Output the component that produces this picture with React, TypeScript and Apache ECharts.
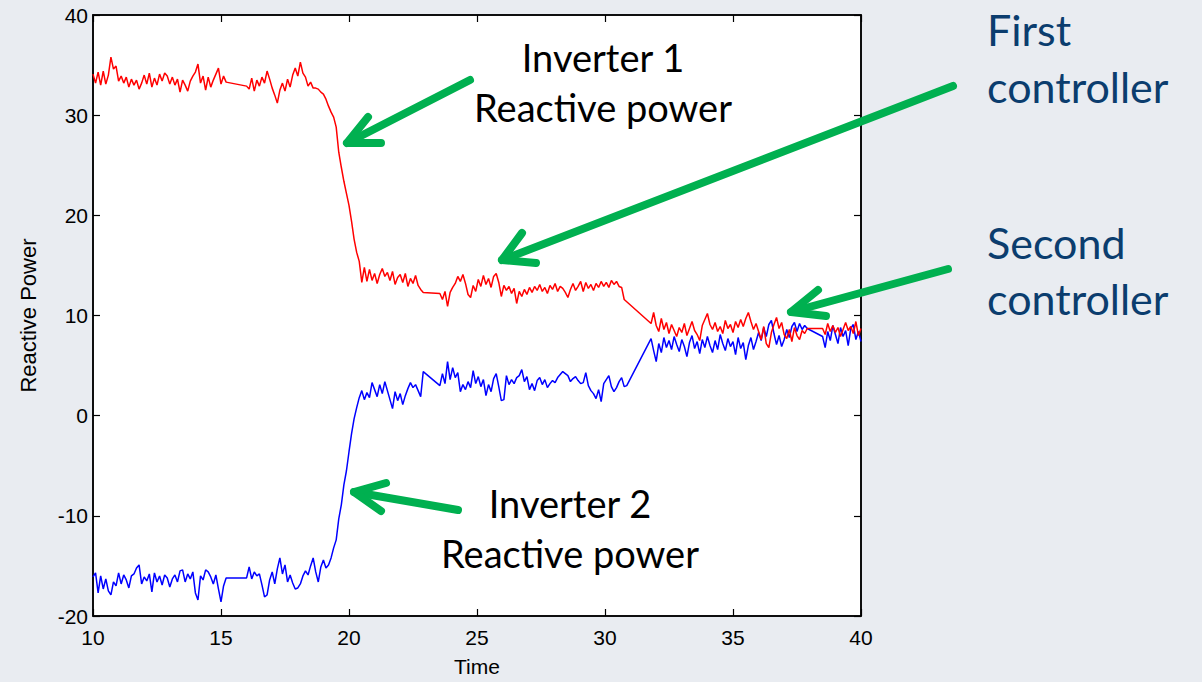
import React, { useEffect, useRef } from "react";
import * as echarts from "echarts";

const inverter1Points: [number, number][] = [
  [10.0, 34.1], [10.1, 33.2], [10.2, 34.3], [10.3, 33.0], [10.4, 34.4], [10.5, 33.1], [10.6, 34.0], [10.7, 35.8], [10.8, 34.6], [10.9, 34.9],
  [11.0, 33.4], [11.1, 33.9], [11.2, 33.2], [11.3, 33.8], [11.4, 32.8], [11.5, 33.6], [11.6, 33.0], [11.7, 33.5], [11.8, 32.6], [11.9, 33.2],
  [12.0, 34.0], [12.1, 33.1], [12.2, 34.2], [12.3, 32.8], [12.4, 33.7], [12.5, 33.0], [12.6, 34.1], [12.7, 33.4], [12.8, 34.2], [12.9, 33.9],
  [13.0, 33.1], [13.1, 33.8], [13.2, 33.0], [13.3, 33.6], [13.4, 32.3], [13.5, 33.5], [13.6, 33.0], [13.7, 32.4], [13.8, 33.4], [13.9, 33.9],
  [14.0, 34.3], [14.1, 35.1], [14.2, 33.2], [14.3, 33.9], [14.4, 32.5], [14.5, 33.8], [14.6, 32.8], [14.7, 33.5], [14.8, 34.1], [14.9, 34.7],
  [15.0, 33.1], [15.1, 33.9], [15.2, 33.3],
  [16.0, 32.9], [16.1, 32.6], [16.2, 33.7], [16.3, 32.4], [16.4, 33.5], [16.5, 32.9], [16.6, 33.8], [16.7, 33.2], [16.8, 34.4], [16.9, 33.6],
  [17.0, 32.7], [17.1, 32.0], [17.2, 31.2], [17.3, 32.5], [17.4, 33.2], [17.5, 32.4], [17.6, 33.6], [17.7, 32.8], [17.8, 34.0], [17.9, 34.7],
  [18.0, 33.9], [18.1, 35.3], [18.2, 34.2], [18.3, 33.8], [18.4, 32.9], [18.5, 33.3], [18.6, 32.7], [18.7, 32.7], [18.8, 32.6], [18.9, 32.3],
  [19.0, 32.1], [19.1, 31.6], [19.2, 30.9], [19.3, 30.3], [19.4, 29.8], [19.5, 28.8], [19.6, 26.3], [19.7, 24.8], [19.8, 23.4], [19.9, 22.2],
  [20.0, 21.0], [20.1, 19.4], [20.2, 17.6], [20.3, 16.3], [20.4, 15.4], [20.5, 13.3], [20.6, 14.8], [20.7, 13.4], [20.8, 14.6], [20.9, 13.5],
  [21.0, 14.2], [21.1, 13.2], [21.2, 14.1], [21.3, 14.7], [21.4, 13.9], [21.5, 14.3], [21.6, 13.5], [21.7, 14.4], [21.8, 13.1], [21.9, 13.8],
  [22.0, 14.1], [22.1, 13.3], [22.2, 14.2], [22.3, 12.9], [22.4, 13.7], [22.5, 13.2], [22.6, 14.0], [22.7, 13.0], [22.8, 12.6], [22.9, 12.3],
  [23.55, 12.2], [23.65, 11.6], [23.75, 12.4], [23.85, 10.9], [23.95, 12.3], [24.05, 12.8], [24.15, 13.2], [24.25, 13.9], [24.35, 13.4], [24.45, 14.1],
  [24.55, 13.2], [24.65, 12.1], [24.75, 11.8], [24.85, 13.0], [24.95, 12.4], [25.05, 13.6], [25.15, 12.9], [25.25, 14.0], [25.35, 13.1], [25.45, 13.7],
  [25.55, 12.8], [25.65, 13.9], [25.75, 14.2], [25.85, 13.3], [25.95, 11.9], [26.05, 13.0], [26.15, 12.5], [26.25, 12.9], [26.35, 12.2], [26.45, 12.7],
  [26.55, 11.2], [26.65, 12.4], [26.75, 11.9], [26.85, 12.6], [26.95, 12.1], [27.05, 12.8], [27.15, 12.3], [27.25, 12.9], [27.35, 12.5], [27.45, 13.1],
  [27.55, 12.4], [27.65, 12.8], [27.75, 12.2], [27.85, 13.0], [27.95, 12.6], [28.05, 13.2], [28.15, 12.4], [28.25, 12.9], [28.35, 12.7], [28.45, 12.3],
  [28.55, 11.8], [28.65, 12.6], [28.75, 13.2], [28.85, 12.5], [28.95, 12.9], [29.05, 13.4], [29.15, 12.4], [29.25, 13.3], [29.35, 12.7], [29.45, 13.1],
  [29.55, 12.5], [29.65, 13.2], [29.75, 12.8], [29.85, 13.4], [29.95, 12.9], [30.05, 13.3], [30.15, 12.8], [30.25, 13.5], [30.35, 13.1], [30.45, 13.4],
  [30.55, 12.9], [30.65, 12.8], [30.75, 11.6],
  [31.8, 9.2], [31.9, 10.3], [32.0, 9.0], [32.1, 8.4], [32.2, 9.7], [32.3, 8.6], [32.4, 9.3], [32.5, 8.2], [32.6, 9.1], [32.7, 8.5],
  [32.8, 7.9], [32.9, 8.8], [33.0, 8.3], [33.1, 9.2], [33.2, 8.0], [33.3, 8.7], [33.4, 9.4], [33.5, 8.5], [33.6, 8.1], [33.7, 7.5],
  [33.8, 9.0], [33.9, 9.6], [34.0, 10.2], [34.1, 9.1], [34.2, 8.6], [34.3, 9.3], [34.4, 8.4], [34.5, 8.9], [34.6, 8.2], [34.7, 9.5],
  [34.8, 8.7], [34.9, 9.1], [35.0, 8.3], [35.1, 9.4], [35.2, 8.8], [35.3, 9.6], [35.4, 8.9], [35.5, 9.7], [35.6, 10.3], [35.7, 9.4],
  [35.8, 8.6], [35.9, 9.2], [36.0, 8.4], [36.1, 7.6], [36.2, 8.9], [36.3, 7.2], [36.4, 6.8], [36.5, 8.3], [36.6, 9.1], [36.7, 9.8],
  [36.8, 8.7], [36.9, 9.3], [37.0, 8.1], [37.1, 7.7], [37.2, 8.6], [37.3, 7.4], [37.4, 8.8], [37.5, 8.0], [37.6, 7.6], [37.7, 8.5],
  [37.8, 8.2], [37.9, 8.7],
  [38.5, 8.7], [38.6, 8.1], [38.7, 9.2], [38.8, 8.4], [38.9, 9.0], [39.0, 8.3], [39.1, 8.8], [39.2, 7.9], [39.3, 8.6], [39.4, 9.3],
  [39.5, 8.5], [39.6, 8.9], [39.7, 8.2], [39.8, 9.4], [39.9, 8.0], [40.0, 8.7],
];

const inverter2Points: [number, number][] = [
  [10.0, -16.1], [10.1, -15.7], [10.2, -17.7], [10.3, -16.0], [10.4, -17.3], [10.5, -16.3], [10.6, -17.5], [10.7, -17.9], [10.8, -16.6], [10.9, -17.0],
  [11.0, -15.7], [11.1, -16.8], [11.2, -15.9], [11.3, -16.4], [11.4, -17.2], [11.5, -16.0], [11.6, -15.8], [11.7, -15.2], [11.8, -14.9], [11.9, -16.8],
  [12.0, -16.1], [12.1, -16.5], [12.2, -15.8], [12.3, -17.6], [12.4, -15.7], [12.5, -16.6], [12.6, -16.0], [12.7, -16.9], [12.8, -15.9], [12.9, -16.2],
  [13.0, -17.1], [13.1, -16.3], [13.2, -15.9], [13.3, -16.6], [13.4, -15.5], [13.5, -15.4], [13.6, -16.6], [13.7, -15.8], [13.8, -16.3], [13.9, -15.6],
  [14.0, -17.7], [14.1, -18.4], [14.2, -16.0], [14.3, -16.4], [14.4, -15.4], [14.5, -15.6], [14.6, -16.1], [14.7, -16.8], [14.8, -15.9], [14.9, -17.3],
  [15.0, -18.6], [15.1, -17.0], [15.2, -16.2],
  [16.0, -16.2], [16.1, -15.1], [16.2, -16.3], [16.3, -15.6], [16.4, -16.0], [16.5, -15.8], [16.6, -16.9], [16.7, -18.1], [16.8, -17.9], [16.9, -16.4],
  [17.0, -15.6], [17.1, -16.8], [17.2, -15.3], [17.3, -14.2], [17.4, -15.8], [17.5, -14.9], [17.6, -16.6], [17.7, -15.9], [17.8, -16.7], [17.9, -17.3],
  [18.0, -17.2], [18.1, -16.8], [18.2, -16.0], [18.3, -15.5], [18.4, -15.9], [18.5, -15.0], [18.6, -14.2], [18.7, -15.6], [18.8, -16.6], [18.9, -15.1],
  [19.0, -14.4], [19.1, -15.2], [19.2, -14.9], [19.3, -14.2], [19.4, -13.2], [19.5, -12.4], [19.6, -10.3], [19.7, -8.9], [19.8, -6.9], [19.9, -5.5],
  [20.0, -3.6], [20.1, -1.8], [20.2, -0.3], [20.3, 0.8], [20.4, 1.8], [20.5, 2.5], [20.6, 1.6], [20.7, 2.3], [20.8, 1.8], [20.9, 3.3],
  [21.0, 2.6], [21.1, 1.9], [21.2, 3.1], [21.3, 2.2], [21.4, 3.4], [21.5, 2.5], [21.6, 1.6], [21.7, 0.7], [21.8, 2.4], [21.9, 1.5],
  [22.0, 2.2], [22.1, 1.1], [22.2, 2.0], [22.3, 2.7], [22.4, 3.3], [22.5, 2.8], [22.6, 3.1], [22.7, 2.5], [22.8, 1.9], [22.9, 4.4],
  [23.55, 3.0], [23.65, 4.2], [23.75, 3.2], [23.85, 5.4], [23.95, 3.6], [24.05, 4.8], [24.15, 3.8], [24.25, 4.3], [24.35, 2.4], [24.45, 3.1],
  [24.55, 2.6], [24.65, 3.4], [24.75, 2.8], [24.85, 4.5], [24.95, 3.2], [25.05, 3.9], [25.15, 2.9], [25.25, 3.6], [25.35, 2.0], [25.45, 3.1],
  [25.55, 2.4], [25.65, 3.7], [25.75, 4.2], [25.85, 2.9], [25.95, 1.5], [26.05, 1.6], [26.15, 4.0], [26.25, 3.1], [26.35, 3.6], [26.45, 3.2],
  [26.55, 3.8], [26.65, 4.0], [26.75, 4.6], [26.85, 3.4], [26.95, 3.9], [27.05, 2.6], [27.15, 3.2], [27.25, 2.5], [27.35, 3.5], [27.45, 3.8],
  [27.55, 3.1], [27.65, 3.6], [27.75, 2.8], [27.85, 3.2], [27.95, 3.5], [28.05, 3.3], [28.15, 3.8], [28.25, 4.1], [28.35, 4.4], [28.45, 4.2],
  [28.55, 4.0], [28.65, 3.4], [28.75, 3.7], [28.85, 3.9], [28.95, 3.5], [29.05, 3.2], [29.15, 3.3], [29.25, 4.3], [29.35, 3.0], [29.45, 2.5],
  [29.55, 2.2], [29.65, 1.7], [29.75, 2.6], [29.85, 1.4], [29.95, 3.2], [30.05, 3.6], [30.15, 4.0], [30.25, 2.9], [30.35, 2.4], [30.45, 2.8],
  [30.55, 3.4], [30.65, 3.8], [30.75, 2.9], [30.85, 3.0],
  [31.8, 7.7], [31.9, 6.5], [32.0, 5.4], [32.1, 7.2], [32.2, 6.3], [32.3, 7.8], [32.4, 6.8], [32.5, 7.5], [32.6, 6.6], [32.7, 7.9],
  [32.8, 7.1], [32.9, 6.4], [33.0, 7.6], [33.1, 6.9], [33.2, 5.9], [33.3, 7.3], [33.4, 8.0], [33.5, 6.7], [33.6, 7.4], [33.7, 6.2],
  [33.8, 7.6], [33.9, 6.8], [34.0, 7.9], [34.1, 7.0], [34.2, 6.3], [34.3, 7.5], [34.4, 6.6], [34.5, 8.1], [34.6, 7.2], [34.7, 6.5],
  [34.8, 7.7], [34.9, 6.9], [35.0, 7.4], [35.1, 6.1], [35.2, 7.8], [35.3, 6.7], [35.4, 7.3], [35.5, 5.6], [35.6, 7.0], [35.7, 7.8],
  [35.8, 6.6], [35.9, 7.4], [36.0, 8.3], [36.1, 7.5], [36.2, 8.8], [36.3, 7.9], [36.4, 9.1], [36.5, 9.5], [36.6, 8.2], [36.7, 7.1],
  [36.8, 8.0], [36.9, 6.9], [37.0, 7.6], [37.1, 8.6], [37.2, 7.8], [37.3, 8.9], [37.4, 9.3], [37.5, 8.4], [37.6, 9.2], [37.7, 8.6],
  [37.8, 9.0], [37.9, 8.7],
  [38.5, 7.9], [38.6, 6.8], [38.7, 8.4], [38.8, 7.5], [38.9, 9.0], [39.0, 8.1], [39.1, 7.2], [39.2, 8.8], [39.3, 7.9], [39.4, 8.5],
  [39.5, 7.0], [39.6, 8.7], [39.7, 9.1], [39.8, 7.6], [39.9, 8.4], [40.0, 7.4],
];

const xAxisName = "Time";
const yAxisName = "Reactive Power";
const inverter1Label = ["Inverter 1", "Reactive power"];
const inverter2Label = ["Inverter 2", "Reactive power"];
const firstControllerLabel = ["First", "controller"];
const secondControllerLabel = ["Second", "controller"];

const GREEN = "#00b050";
const NAVY = "#0b3d6e";
const BG = "#e9ecf1";

function arrow(shaft: [number, number], tip: [number, number], armA: [number, number], armB: [number, number]) {
  const style = { stroke: GREEN, lineWidth: 8, lineCap: "round", lineJoin: "round", fill: null };
  return [
    { type: "line", z: 100, shape: { x1: shaft[0], y1: shaft[1], x2: tip[0], y2: tip[1] }, style },
    { type: "polyline", z: 100, shape: { points: [armA, tip, armB] }, style },
  ];
}

function text(x: number, y: number, s: string, size: number, color: string, align: string) {
  return {
    type: "text",
    z: 100,
    x,
    y,
    style: {
      text: s,
      fill: color,
      font: `${size}px Lato, "Open Sans", sans-serif`,
      textAlign: align,
      textVerticalAlign: "middle",
    },
  };
}

export default function App() {
  const ref = useRef<HTMLDivElement>(null);
  useEffect(() => {
    if (!ref.current) return;
    const chart = echarts.init(ref.current, null, { renderer: "svg" });
    const axisFont = { color: "#000", fontSize: 21, fontFamily: "Liberation Sans, Arial, sans-serif" };
    const lineStyle = { color: "#000", width: 1.5 };
    const tick = { show: true, inside: true, length: 7, lineStyle: { color: "#000", width: 1.2 } };
    chart.setOption({
      animation: false,
      backgroundColor: BG,
      grid: {
        left: 93,
        right: 341,
        top: 15,
        bottom: 64,
        show: true,
        backgroundColor: "#ffffff",
        borderColor: "#000",
        borderWidth: 1.5,
      },
      xAxis: [
        {
          type: "value",
          min: 10,
          max: 40,
          interval: 5,
          position: "bottom",
          name: xAxisName,
          nameLocation: "middle",
          nameGap: 40,
          nameTextStyle: { ...axisFont, fontSize: 21 },
          axisLine: { show: true, onZero: false, lineStyle },
          axisTick: tick,
          axisLabel: { ...axisFont, margin: 11 },
          splitLine: { show: false },
        },
        {
          type: "value",
          min: 10,
          max: 40,
          interval: 5,
          position: "top",
          axisLine: { show: true, onZero: false, lineStyle },
          axisTick: tick,
          axisLabel: { show: false },
          splitLine: { show: false },
        },
      ],
      yAxis: [
        {
          type: "value",
          min: -20,
          max: 40,
          interval: 10,
          position: "left",
          name: yAxisName,
          nameLocation: "middle",
          nameGap: 54,
          nameTextStyle: { ...axisFont, fontSize: 22 },
          axisLine: { show: true, onZero: false, lineStyle },
          axisTick: tick,
          axisLabel: { ...axisFont, margin: 5 },
          splitLine: { show: false },
        },
        {
          type: "value",
          min: -20,
          max: 40,
          interval: 10,
          position: "right",
          axisLine: { show: true, onZero: false, lineStyle },
          axisTick: tick,
          axisLabel: { show: false },
          splitLine: { show: false },
        },
      ],
      series: [
        {
          name: "Inverter 1",
          type: "line",
          data: inverter1Points,
          showSymbol: false,
          lineStyle: { color: "#ff0000", width: 1.5 },
          itemStyle: { color: "#ff0000" },
          z: 3,
        },
        {
          name: "Inverter 2",
          type: "line",
          data: inverter2Points,
          showSymbol: false,
          lineStyle: { color: "#0000ff", width: 1.5 },
          itemStyle: { color: "#0000ff" },
          z: 2,
        },
      ],
      graphic: [
        ...arrow([470, 80], [347, 143], [368, 117], [381, 143]),
        ...arrow([953, 86], [502, 260], [522, 233], [536, 263]),
        ...arrow([948, 269], [791, 312], [818, 290], [826, 316]),
        ...arrow([458, 510], [354, 492], [386, 483], [381, 511]),
        text(603, 57, inverter1Label[0], 38, "#000", "center"),
        text(603, 107, inverter1Label[1], 38, "#000", "center"),
        text(570, 503, inverter2Label[0], 38, "#000", "center"),
        text(570, 553, inverter2Label[1], 38, "#000", "center"),
        text(987, 29, firstControllerLabel[0], 43, NAVY, "left"),
        text(987, 86, firstControllerLabel[1], 43, NAVY, "left"),
        text(987, 242, secondControllerLabel[0], 43, NAVY, "left"),
        text(987, 298, secondControllerLabel[1], 43, NAVY, "left"),
      ],
    });
    return () => chart.dispose();
  }, []);
  return <div ref={ref} style={{ position: "fixed", left: 0, top: 0, width: 1202, height: 682 }} />;
}
